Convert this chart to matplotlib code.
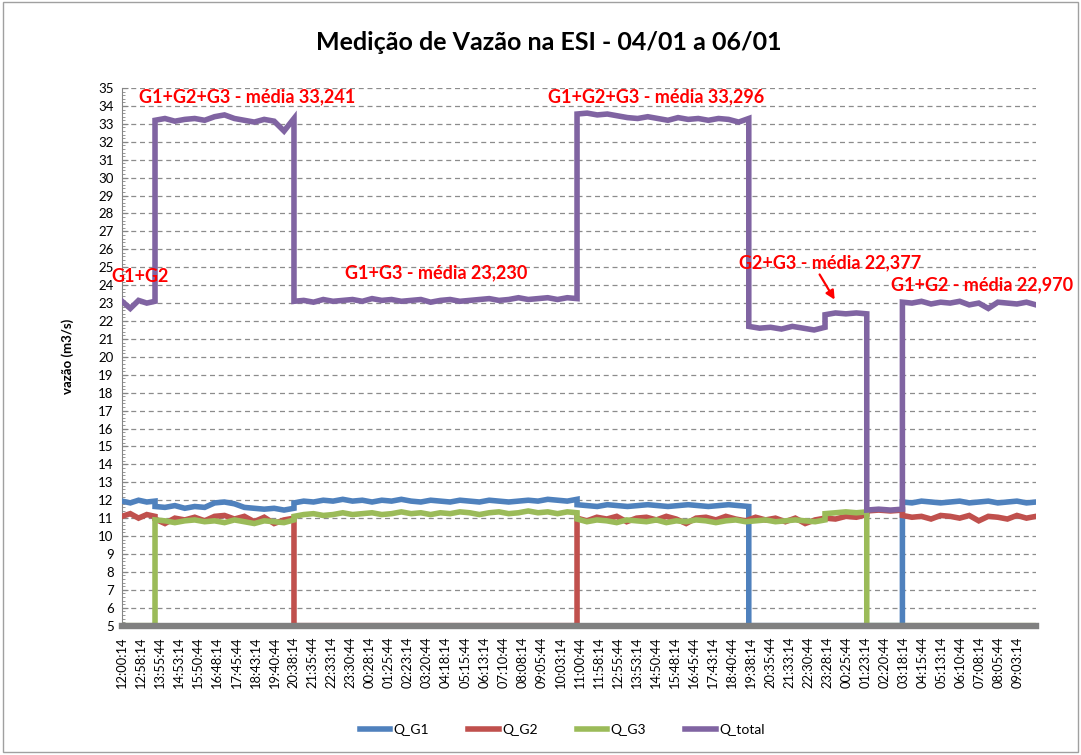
import matplotlib.pyplot as plt
import numpy as np
from matplotlib.patches import Rectangle

# --- x axis category labels (one every 115 samples of 30 s) ---
tick_labels = [
    "12:00:14", "12:58:14", "13:55:44", "14:53:14", "15:50:44", "16:48:14",
    "17:45:44", "18:43:14", "19:40:44", "20:38:14", "21:35:44", "22:33:14",
    "23:30:44", "00:28:14", "01:25:44", "02:23:14", "03:20:44", "04:18:14",
    "05:15:44", "06:13:14", "07:10:44", "08:08:14", "09:05:44", "10:03:14",
    "11:00:44", "11:58:14", "12:55:44", "13:53:14", "14:50:44", "15:48:14",
    "16:45:44", "17:43:14", "18:40:44", "19:38:14", "20:35:44", "21:33:14",
    "22:30:44", "23:28:14", "00:25:44", "01:23:14", "02:20:44", "03:18:14",
    "04:15:44", "05:13:14", "06:10:44", "07:08:14", "08:05:44", "09:03:14",
]

# --- series, as segments (start, end in tick units) ---
g1_bounds = [0, 1.73, 9.02, 23.87, 32.88, 40.94, 47.95]
g1_values = [
    [11.95, 11.85, 12.0, 11.9, 11.95],
    [11.65, 11.6, 11.7, 11.55, 11.65, 11.6, 11.85, 11.9, 11.8, 11.6, 11.55, 11.5, 11.55, 11.45, 11.55],
    [11.85, 11.95, 11.9, 12.0, 11.95, 12.05, 11.95, 12.0, 11.9, 12.0, 11.95, 12.05, 11.95, 11.9, 12.0,
     11.95, 11.9, 12.0, 11.95, 11.9, 12.0, 11.95, 11.9, 11.95, 12.0, 11.95, 12.05, 12.0, 11.95, 12.05],
    [11.75, 11.7, 11.65, 11.75, 11.7, 11.65, 11.7, 11.75, 11.7, 11.65, 11.7, 11.75, 11.7, 11.65, 11.7,
     11.75, 11.7, 11.65],
    [5, 5],
    [11.9, 11.85, 11.95, 11.9, 11.85, 11.9, 11.95, 11.85, 11.9, 11.95, 11.85, 11.9, 11.95, 11.85, 11.9],
]

g2_bounds = [0, 1.73, 9.02, 23.87, 36.88, 39.07, 40.94, 47.95]
g2_values = [
    [11.1, 11.25, 11.0, 11.2, 11.1],
    [10.95, 10.7, 11.0, 10.9, 11.05, 10.85, 11.1, 11.15, 10.95, 11.1, 10.8, 11.05, 10.7, 10.9, 11.0],
    [5, 5],
    [11.0, 10.85, 11.05, 10.95, 11.1, 10.8, 11.0, 11.05, 10.9, 11.1, 10.95, 10.7, 11.0, 11.05, 10.9,
     11.1, 10.95, 10.85, 11.05, 10.9, 11.0, 10.8, 11.0, 10.7, 10.9, 11.0],
    [11.0, 10.95, 11.1, 11.05, 11.2],
    [11.4, 11.45, 11.4, 11.45],
    [11.15, 11.05, 11.1, 10.95, 11.15, 11.1, 11.0, 11.15, 10.85, 11.1, 11.05, 10.95, 11.15, 11.0, 11.1],
]

g3_bounds = [0, 1.73, 9.02, 23.87, 36.88, 39.07, 47.95]
g3_values = [
    [5, 5],
    [10.9, 10.85, 10.75, 10.85, 10.9, 10.8, 10.85, 10.75, 10.9, 10.8, 10.7, 10.85, 10.8, 10.75, 10.9],
    [11.1, 11.2, 11.25, 11.15, 11.2, 11.3, 11.2, 11.25, 11.3, 11.2, 11.25, 11.35, 11.25, 11.3, 11.2,
     11.3, 11.25, 11.35, 11.3, 11.2, 11.3, 11.35, 11.25, 11.3, 11.4, 11.3, 11.35, 11.25, 11.35, 11.3],
    [10.95, 10.8, 10.9, 10.85, 10.75, 10.9, 10.85, 10.8, 10.9, 10.75, 10.85, 10.8, 10.9, 10.85, 10.75,
     10.85, 10.9, 10.8, 10.85, 10.9, 10.8, 10.85, 10.9, 10.85, 10.8, 10.9],
    [11.25, 11.3, 11.35, 11.3, 11.35],
    [5, 5],
]

total_bounds = [0, 1.73, 9.02, 23.87, 32.88, 36.88, 39.07, 40.94, 47.95]
total_values = [
    [23.1, 22.7, 23.15, 23.0, 23.1],
    [33.2, 33.3, 33.15, 33.25, 33.3, 33.2, 33.4, 33.5, 33.3, 33.2, 33.1, 33.25, 33.15, 32.6, 33.3],
    [23.1, 23.15, 23.05, 23.2, 23.1, 23.15, 23.2, 23.1, 23.25, 23.15, 23.2, 23.1, 23.15, 23.2, 23.05,
     23.15, 23.2, 23.1, 23.15, 23.2, 23.25, 23.15, 23.2, 23.3, 23.2, 23.25, 23.3, 23.2, 23.3, 23.25],
    [33.55, 33.6, 33.5, 33.55, 33.45, 33.35, 33.3, 33.4, 33.3, 33.2, 33.35, 33.25, 33.3, 33.2, 33.3,
     33.25, 33.1, 33.3],
    [21.7, 21.6, 21.65, 21.55, 21.7, 21.6, 21.5, 21.65],
    [22.35, 22.45, 22.4, 22.45, 22.4],
    [11.45, 11.5, 11.45, 11.5],
    [23.05, 23.0, 23.1, 22.95, 23.05, 23.0, 23.1, 22.9, 23.0, 22.7, 23.05, 23.0, 22.95, 23.05, 22.9],
]

series_names = ["Q_G1", "Q_G2", "Q_G3", "Q_total"]
series_colors = ["#4F81BD", "#C0504D", "#9BBB59", "#8064A2"]

# annotations: text, x (tick units), y
notes = [
    ("G1+G2+G3 - média 33,241", 6.56, 34.5),
    ("G1+G2", 0.92, 24.5),
    ("G1+G3 - média 23,230", 16.5, 24.68),
    ("G1+G2+G3 - média 33,296", 28.0, 34.5),
    ("G2+G3 - média 22,377", 37.15, 25.23),
    ("G1+G2 - média 22,970", 45.1, 24.0),
]


def build(bounds, values):
    xs, ys = [], []
    for i, vals in enumerate(values):
        xs.extend(np.linspace(bounds[i], bounds[i + 1], len(vals)))
        ys.extend(vals)
    return xs, ys


plt.rcParams['font.family'] = ['Lato', 'DejaVu Sans']

fig = plt.figure(figsize=(10.81, 7.55), dpi=100)
ax = fig.add_axes([0.1129, 0.1713, 0.8455, 0.7121])

all_series = [(g1_bounds, g1_values), (g2_bounds, g2_values),
              (g3_bounds, g3_values), (total_bounds, total_values)]
for (b, v), name, col in zip(all_series, series_names, series_colors):
    xs, ys = build(b, v)
    ax.plot(xs, ys, color=col, lw=4.0, label=name, solid_joinstyle='miter', zorder=3)

ax.set_xlim(0, 47.95)
ax.set_ylim(5, 35)
ax.set_xticks(range(len(tick_labels)))
ax.set_xticklabels(tick_labels, rotation=90, fontsize=9.3)
ax.set_yticks(range(5, 36))
ax.set_yticks(np.arange(5, 35.01, 0.2), minor=True)
ax.tick_params(axis='y', labelsize=9.5, length=4, direction='in', color='#868686', pad=6)
ax.tick_params(axis='y', which='minor', length=2.5, direction='in', color='#868686')
ax.tick_params(axis='x', length=0, pad=8)

ax.grid(axis='y', linestyle=(0, (4, 3)), color='#8c8c8c', lw=0.9)
ax.set_axisbelow(True)
for s in ['top', 'right']:
    ax.spines[s].set_visible(False)
ax.spines['left'].set_color('#868686')
ax.spines['bottom'].set_color('#808080')
ax.spines['bottom'].set_linewidth(4.6)
ax.spines['bottom'].set_zorder(5)

for txt, x, y in notes:
    ax.text(x, y, txt, color='#FF0000', fontsize=13, fontweight='bold',
            ha='center', va='center', clip_on=False, zorder=6)
ax.annotate("", xy=(37.46, 23.06), xytext=(36.52, 24.73),
            arrowprops=dict(arrowstyle='-|>', color='#FF0000', lw=1.6, mutation_scale=13))

ax.set_ylabel("vazão (m3/s)", fontsize=9.5, fontweight='bold')
ax.yaxis.set_label_coords(-0.053, 0.5)

fig.suptitle("Medição de Vazão na ESI - 04/01 a 06/01", x=0.508, y=0.944,
             fontsize=18, fontweight='bold', va='center')

fig.legend(loc='center', bbox_to_anchor=(0.52, 0.033), ncol=4, frameon=False,
           fontsize=10, handlelength=2.2, handletextpad=0.25, columnspacing=2.8)

fig.patches.append(Rectangle((0.003, 0.004), 0.994, 0.993, transform=fig.transFigure,
                             fill=False, edgecolor='#a0a0a0', lw=1))

fig.savefig("out.png", dpi=100)
